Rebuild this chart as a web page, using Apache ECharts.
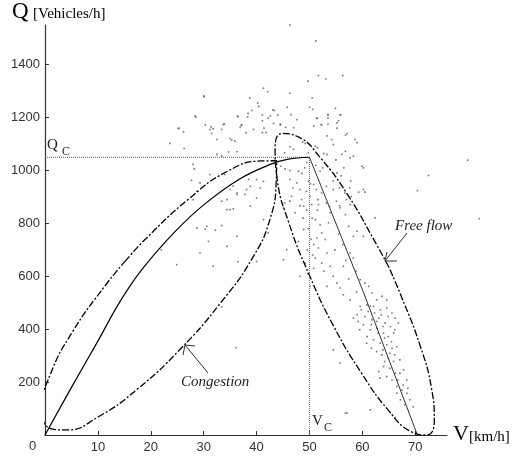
<!DOCTYPE html>
<html>
<head>
<meta charset="utf-8">
<script src="https://cdn.jsdelivr.net/npm/echarts@6/dist/echarts.min.js"></script>
<style>
  html, body { margin: 0; padding: 0; background: #fff; }
  #chart { width: 523px; height: 466px; }
</style>
</head>
<body>
<div id="chart"></div>
<script>
// critical point
const VC = 50
const QC = 1050

const xTicks = [10, 20, 30, 40, 50, 60, 70]
const yTicks = [200, 400, 600, 800, 1000, 1200, 1400]

// speed-flow curve, congested branch (V km/h, Q veh/h)
const congBranch = [[0, 0], [5, 180], [10, 355], [14.2, 505], [18.3, 625], [24.4, 765],
  [30, 870], [36.8, 968], [42.6, 1023], [46, 1043], [50, 1050]]
// free flow branch
const freeBranch = [[50, 1050], [60.2, 540], [70.4, 0]]

// ellipse round the congested points
const congEllipse = [[15.3, 660], [11.5, 568], [5.2, 390], [1, 229], [-0.5, 105], [0.4, 31],
  [4.1, 19], [10.1, 69], [17.5, 174], [25.5, 323], [33.1, 497], [39.4, 675], [42.6, 820],
  [43.7, 954], [43.8, 1037], [41, 1036], [34.5, 997], [27.1, 891], [19.1, 743], [15.3, 660]]

// ellipse round the free flow points
const freeEllipse = [[65, 635], [62.4, 730], [57.2, 909], [52.1, 1047], [47.9, 1127],
  [44.8, 1140], [43.5, 1085], [43.9, 967], [46.1, 802], [49.9, 608], [54.6, 410],
  [59.9, 232], [64.9, 94], [69.2, 13], [72.2, 0], [73.6, 56], [73.1, 173], [70.9, 339],
  [67.2, 532], [65, 635]]

// measured points
const points = [
  [46.3, 1550], [51.2, 1490], [51.7, 1359], [56.3, 1359], [53.1, 1346], [49.7, 1338],
  [41.3, 1311], [42.1, 1298], [46.3, 1292], [30.1, 1279], [38.7, 1274], [50.5, 1274],
  [40.2, 1255], [40.4, 1242], [45.8, 1239], [50, 1239], [54.9, 1235], [50.6, 1231],
  [39.1, 1227], [43.3, 1227], [46.5, 1211], [53.5, 1211], [55.9, 1211], [28.5, 1202],
  [36.5, 1202], [38.3, 1202], [42.6, 1206], [42.2, 1198], [51.4, 1198], [53.5, 1198],
  [47.6, 1192], [41.1, 1188], [55.5, 1188], [33.9, 1175], [30.3, 1172], [37.1, 1172],
  [44.5, 1175], [53.5, 1175], [52.3, 1172], [45.5, 1163], [25.3, 1160], [31.4, 1165],
  [36.9, 1163], [41.4, 1160], [47, 1162], [55.2, 1160],
  [43.1, 1229], [38.4, 1216], [55.8, 1210], [36.4, 1206], [41.1, 1210], [44, 1210],
  [51.4, 1197], [53.5, 1210], [43.2, 1178], [44.5, 1172], [50.8, 1168], [52.2, 1174],
  [55.2, 1180], [37.2, 1170], [39.4, 1155], [35, 1121], [38, 1143], [41.1, 1143],
  [41.8, 1143], [57.1, 1140], [56.8, 1134], [58.6, 1117], [59, 1105], [53.3, 1131],
  [54.2, 1117], [54.5, 1098], [48.7, 1107], [49.2, 1102], [51.1, 1092], [51.5, 1086],
  [35.9, 1111], [46.3, 1090], [47, 1080], [56.8, 1073], [56.1, 1061], [36.3, 1071],
  [45.3, 1067], [49.8, 1067], [52.7, 1064], [53.3, 1061], [57.7, 1048], [58.3, 1054],
  [59.9, 1016], [60.2, 1010], [60.5, 918], [59.3, 918], [44.6, 1016], [45.4, 1006],
  [46.3, 1000], [47.9, 997], [48.6, 989], [52, 997], [53.9, 1004], [55.2, 991],
  [38.5, 966], [40, 966], [41.3, 959], [38.8, 940], [40.7, 934], [36.3, 915],
  [37.8, 909], [40, 896], [46.3, 966], [47.6, 953], [49.8, 959], [50.8, 947],
  [46.9, 934], [48.2, 928], [49.4, 921], [51.3, 928], [52.3, 915], [53.2, 940],
  [54.5, 928], [55.7, 934], [56.7, 915], [57.6, 934], [46.6, 902], [48.5, 890],
  [50.1, 902], [51.6, 890], [53.2, 877], [55.1, 884], [57, 890], [57.9, 902],
  [45.3, 877], [48.2, 867], [50.4, 871], [53.8, 864], [55.7, 867],
  [46.3, 884], [48.9, 865], [51.7, 871], [53.9, 840], [55.8, 859], [57.7, 871],
  [56.8, 833], [45.1, 859], [47.3, 840], [51.1, 814], [52, 795], [53.6, 802],
  [52.3, 764], [51.4, 745], [53, 739], [50.8, 720], [51.7, 707], [53.3, 688],
  [51.1, 669], [52.3, 650], [53.9, 638], [52.7, 619], [54.5, 600], [55.2, 574],
  [55.8, 556], [56.4, 530], [57.7, 511], [58.3, 751], [59, 770], [57.4, 789],
  [60.2, 751], [57.7, 688], [58.3, 669], [56.4, 638], [59.6, 587], [60.5, 574],
  [61.2, 562], [61.8, 537], [62.7, 511], [63.7, 524], [64.6, 511], [61.5, 486],
  [45.7, 701], [45.1, 663], [42.2, 764], [41.3, 814], [48.2, 600], [48.9, 777],
  [47.9, 732], [53.3, 562], [50.1, 562], [40, 656], [62.4, 821], [60.2, 928],
  [49.5, 850], [50.5, 820], [49.8, 780], [50.3, 740], [49.6, 700], [50.6, 680],
  [49.2, 650], [50.8, 630], [49.7, 610], [48.8, 820], [51.5, 850], [50.2, 950],
  [49.1, 1010], [51.2, 1020], [49.5, 1030], [52.5, 1010], [54.5, 960], [56, 980],
  [57.8, 960], [55, 1040], [56.5, 1010], [55.5, 760], [56.3, 720], [54.8, 700],
  [56.9, 660], [58.8, 620], [57.4, 590], [58.9, 540],
  [59.6, 486], [60.9, 492], [62.1, 486], [63.4, 473], [64.6, 480], [65.6, 461],
  [66.2, 442], [59, 455], [60.5, 448], [61.8, 436], [63.1, 442], [64.3, 423],
  [65.3, 410], [60.2, 417], [61.5, 398], [62.7, 404], [64, 385], [64.9, 372],
  [65.9, 385], [60.9, 372], [62.1, 360], [63.4, 347], [64.6, 341], [65.6, 328],
  [66.5, 334], [63.7, 303], [64.9, 290], [65.9, 278], [64, 259], [63.1, 240],
  [64.6, 221], [65.6, 208], [66.5, 183], [67.5, 170], [68.4, 158], [67.2, 133],
  [66.2, 234], [67.8, 246], [68.4, 208], [54.5, 322], [55.8, 272], [57.1, 82],
  [61.5, 95], [56.8, 83], [66.5, 158], [66.2, 66],
  [58.3, 442], [59.2, 429], [59.8, 473], [61.1, 467], [62.3, 461], [63.6, 454],
  [64.9, 448], [62.7, 429], [63.9, 410], [61.7, 417], [63, 385], [64.2, 366],
  [65.5, 353], [66.1, 398], [66.8, 423], [59.5, 398], [60.8, 347], [61.7, 328],
  [62.7, 315], [63.9, 322], [65.2, 309], [66.1, 303], [67.1, 284], [64.2, 278],
  [65.2, 252], [63.3, 215], [67.1, 234], [66.7, 208], [67.7, 189], [68.6, 177],
  [69, 133], [68, 114], [69.6, 107],
  [72.5, 981], [70.4, 924], [82.1, 818], [79.9, 1039],
  [25.2, 1158], [26.2, 1146], [23.6, 1102], [26.3, 1083], [31.8, 1158], [33.7, 1174],
  [31.5, 1140], [33.4, 1155], [35.3, 1115], [34.7, 1070], [32.5, 1061], [33.4, 1055],
  [28, 1023], [28.2, 1006], [31.2, 985], [27.7, 963], [29.3, 953], [28.7, 922],
  [28, 890], [34, 985], [35, 928], [36.3, 909], [33.4, 884], [34.4, 852], [35.6, 855],
  [28.7, 783], [30.3, 779], [32.2, 774], [33.4, 792], [36.3, 751], [30.9, 732],
  [34.4, 713], [29.3, 688], [24.9, 644], [31.8, 638], [28.4, 1206], [30, 1282],
  [31.2, 1155], [32.5, 1117], [35.6, 941], [38.1, 928], [34.4, 890], [35, 852],
  [38.8, 865], [30.6, 789], [36.5, 655], [33.4, 485], [36.1, 330], [22, 700]
]

const chart = echarts.init(document.getElementById('chart'))

const axisCol = '#333'
const ellipseStyle = { color: '#000', width: 1.3, type: [7, 2, 2, 2] }
const plain = (v) => String(v)

let option = {
  animation: false,
  grid: { left: 45, right: 76, top: 25, bottom: 31 },
  xAxis: {
    type: 'value', min: 0, max: 76,
    axisLine: { lineStyle: { color: axisCol, width: 1.2 } },
    axisTick: { inside: true, length: 4, lineStyle: { color: axisCol }, customValues: xTicks },
    axisLabel: { customValues: xTicks, formatter: plain, margin: 6, color: '#333', fontSize: 13, fontFamily: 'Liberation Sans' },
    splitLine: { show: false }
  },
  yAxis: {
    type: 'value', min: 0, max: 1550,
    axisLine: { show: true, lineStyle: { color: axisCol, width: 1.2 } },
    axisTick: { show: true, inside: true, length: 4, lineStyle: { color: axisCol }, customValues: yTicks },
    axisLabel: { customValues: yTicks, formatter: plain, margin: 5, color: '#333', fontSize: 13, fontFamily: 'Liberation Sans' },
    splitLine: { show: false }
  },
  series: [
    {
      type: 'scatter', data: points, symbol: 'rect', symbolSize: 1.6, clip: false,
      itemStyle: { color: '#555' }, silent: true
    },
    {
      type: 'line', data: [[0, QC], [VC, QC]], symbol: 'none',
      lineStyle: { color: '#555', width: 1, type: [1, 1] }
    },
    {
      type: 'line', data: [[VC, 0], [VC, QC]], symbol: 'none',
      lineStyle: { color: '#777', width: 1, type: [1, 1] }
    },
    {
      type: 'line', data: congBranch, symbol: 'none', smooth: 0.4,
      lineStyle: { color: '#000', width: 1.2 }
    },
    {
      type: 'line', data: freeBranch, symbol: 'none',
      lineStyle: { color: '#333', width: 1 }
    },
    {
      type: 'line', data: congEllipse, symbol: 'none', smooth: 0.5, clip: false,
      lineStyle: ellipseStyle
    },
    {
      type: 'line', data: freeEllipse, symbol: 'none', smooth: 0.5, clip: false,
      lineStyle: ellipseStyle
    }
  ],
  graphic: [
    { type: 'text', left: 12, top: 0, style: { text: 'Q', font: '23px "Liberation Serif"', fill: '#000' } },
    { type: 'text', left: 33, top: 7, style: { text: '[Vehicles/h]', font: '15px "Liberation Serif"', fill: '#000' } },
    { type: 'text', left: 453, top: 423, style: { text: 'V', font: '22px "Liberation Serif"', fill: '#000' } },
    { type: 'text', left: 469, top: 430, style: { text: '[km/h]', font: '15px "Liberation Serif"', fill: '#000' } },
    { type: 'text', left: 47, top: 138, style: { text: 'Q', font: '15px "Liberation Serif"', fill: '#222' } },
    { type: 'text', left: 62, top: 146, style: { text: 'C', font: '12px "Liberation Serif"', fill: '#222' } },
    { type: 'text', left: 312, top: 414, style: { text: 'V', font: '15px "Liberation Serif"', fill: '#222' } },
    { type: 'text', left: 324, top: 422, style: { text: 'C', font: '12px "Liberation Serif"', fill: '#222' } },
    { type: 'text', left: 29, top: 440, style: { text: '0', font: '13px "Liberation Sans"', fill: '#333' } },
    { type: 'text', left: 181, top: 375, style: { text: 'Congestion', font: 'italic 15px "Liberation Serif"', fill: '#222' } },
    { type: 'text', left: 395, top: 219, style: { text: 'Free flow', font: 'italic 15px "Liberation Serif"', fill: '#222' } },
    { type: 'polyline', shape: { points: [[208, 373], [185, 345]] }, style: { stroke: '#333', lineWidth: 1 } },
    { type: 'polyline', shape: { points: [[183, 355], [185, 345], [195, 346]] }, style: { stroke: '#333', lineWidth: 1, fill: null } },
    { type: 'polyline', shape: { points: [[407, 233], [385, 261]] }, style: { stroke: '#333', lineWidth: 1 } },
    { type: 'polyline', shape: { points: [[387, 252], [385, 261], [397, 261]] }, style: { stroke: '#333', lineWidth: 1, fill: null } }
  ]
}

option && chart.setOption(option)
</script>
</body>
</html>
